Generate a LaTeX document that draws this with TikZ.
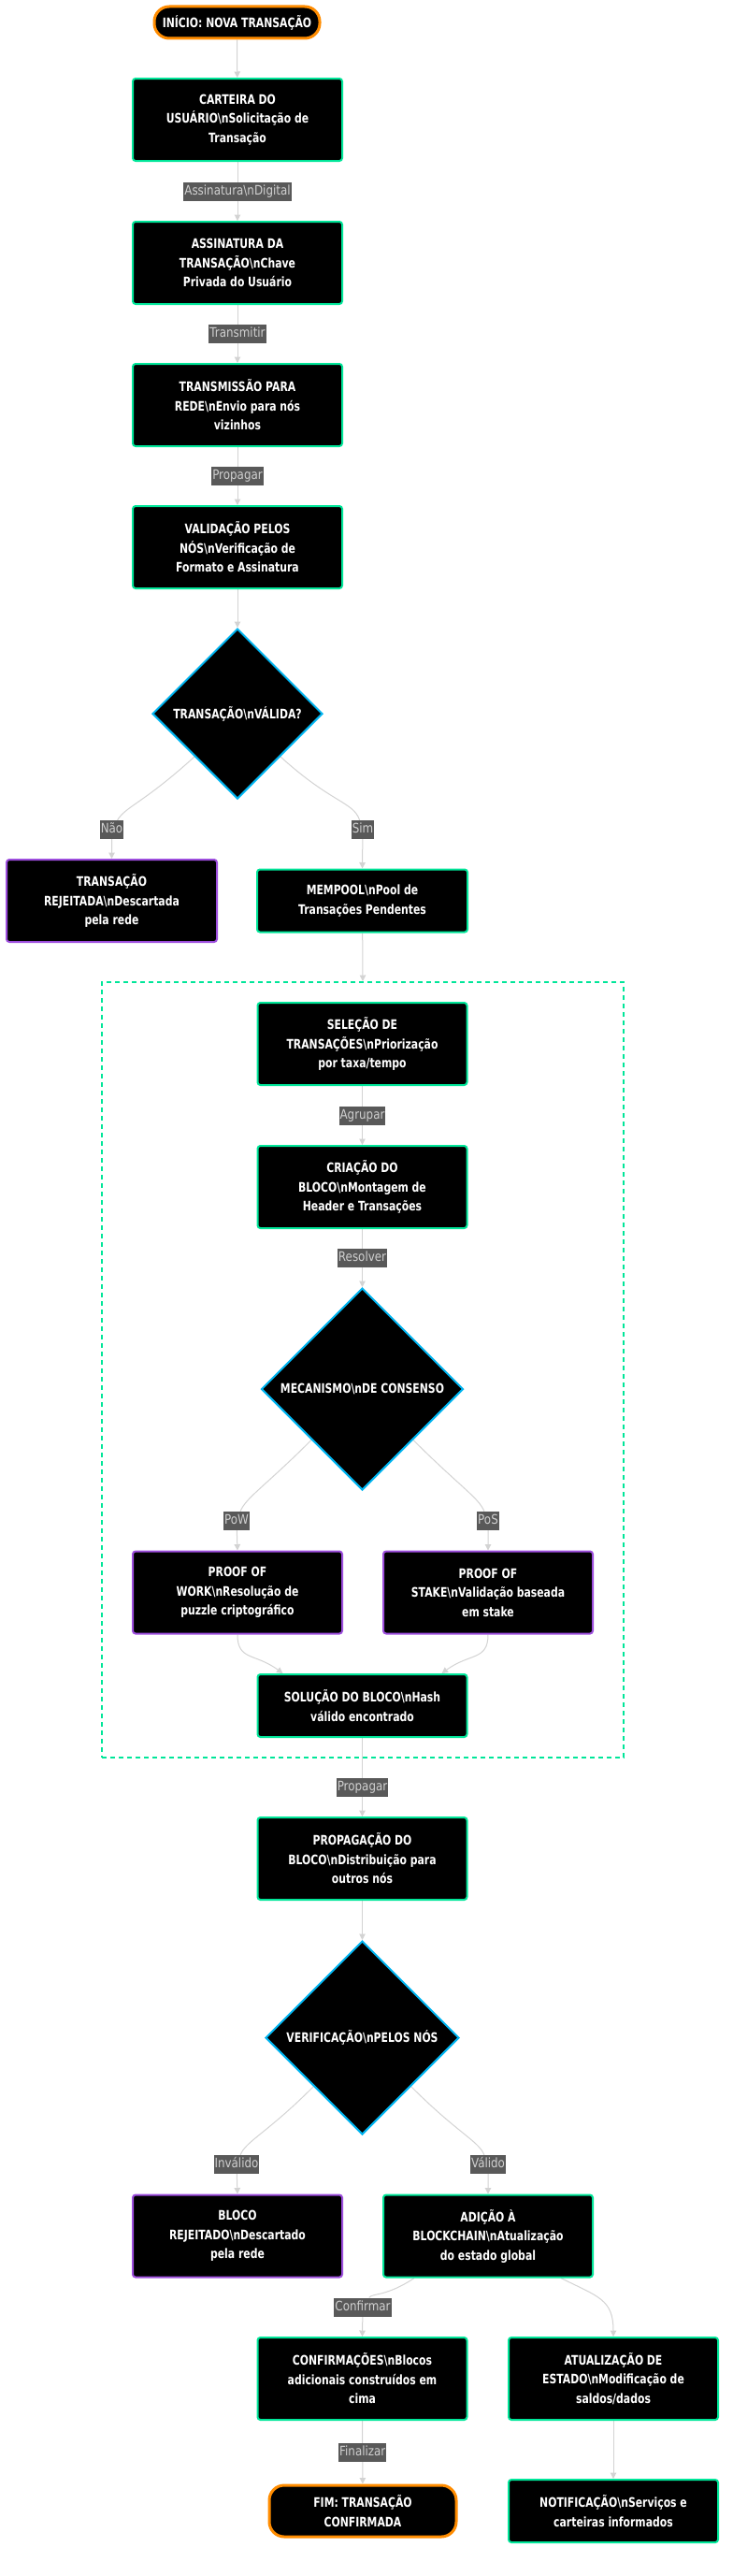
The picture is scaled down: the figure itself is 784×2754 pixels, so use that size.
\documentclass[tikz,border=0pt]{standalone}
\usepackage{fontspec}
\setmainfont{DejaVu Sans}[FakeStretch=0.85, BoldFeatures={FakeStretch=0.775}]
\usepackage{xcolor}
\usepackage{tikz}
\usetikzlibrary{arrows.meta,shapes.geometric,fit,calc,backgrounds}

\definecolor{verde}{HTML}{00E699}
\definecolor{roxo}{HTML}{9D4EDD}
\definecolor{laranja}{HTML}{FF8C00}
\definecolor{ciano}{HTML}{00B4F0}
\definecolor{linha}{HTML}{D3D3D3}
\definecolor{rotulo}{HTML}{595959}
\definecolor{rotulotxt}{HTML}{D0D0D0}

\newcommand{\bsn}{\textbackslash n}

\tikzset{
  base/.style={fill=black, text=white, font=\fontsize{14}{20.5}\selectfont\bfseries, align=center, inner sep=0pt},
  caixa/.style={base, draw=verde, line width=2pt, rounded corners=3pt, minimum width=224pt, minimum height=88pt},
  caixa2/.style={caixa, minimum height=67pt},
  roxa/.style={caixa, draw=roxo},
  termo/.style={base, draw=laranja, line width=3pt, rounded corners=16pt},
  decisao/.style={base, diamond, aspect=1, draw=ciano, line width=2pt},
  flow/.style={draw=linha, line width=1pt, -{Triangle[length=6.5pt,width=6.5pt]}},
  lbl/.style={fill=rotulo, text=rotulotxt, font=\fontsize{14}{16}\selectfont, inner xsep=1pt, inner ysep=0pt, minimum height=20pt, text height=10.5pt, text depth=3pt},
}

\begin{document}
\begin{tikzpicture}[x=1pt,y=-1pt]
  \useasboundingbox (0,0) rectangle (784,2754); % 与原图同尺寸
  % 主流程
  \node[termo, minimum width=177pt, minimum height=34pt] (inicio) at (253.5,24) {INÍCIO: NOVA TRANSAÇÃO};
  \node[caixa] (carteira) at (254,128) {CARTEIRA DO\\USUÁRIO\bsn Solicitação de\\Transação};
  \node[caixa] (assinatura) at (254,281) {ASSINATURA DA\\TRANSAÇÃO\bsn Chave\\Privada do Usuário};
  \node[caixa] (transmissao) at (254,433) {TRANSMISSÃO PARA\\REDE\bsn Envio para nós\\vizinhos};
  \node[caixa] (validacao) at (254,585) {VALIDAÇÃO PELOS\\NÓS\bsn Verificação de\\Formato e Assinatura};
  \node[decisao, minimum width=182pt, minimum height=182pt] (dvalida) at (254,763) {TRANSAÇÃO\bsn VÁLIDA?};
  \node[roxa, minimum width=225pt] (rejtx) at (119.5,963) {TRANSAÇÃO\\REJEITADA\bsn Descartada\\pela rede};
  \node[caixa2, minimum width=225pt] (mempool) at (387.5,963) {MEMPOOL\bsn Pool de\\Transações Pendentes};
  % 区块生成
  \node[caixa] (selecao) at (387.5,1116) {SELEÇÃO DE\\TRANSAÇÕES\bsn Priorização\\por taxa/tempo};
  \node[caixa] (criacao) at (387.5,1269) {CRIAÇÃO DO\\BLOCO\bsn Montagem de\\Header e Transações};
  \node[decisao, minimum width=216pt, minimum height=216pt] (dconsenso) at (387.5,1485) {MECANISMO\bsn DE CONSENSO};
  \node[roxa] (pow) at (254,1702.5) {PROOF OF\\WORK\bsn Resolução de\\puzzle criptográfico};
  \node[roxa] (pos) at (522,1702.5) {PROOF OF\\STAKE\bsn Validação baseada\\em stake};
  \node[caixa2] (solucao) at (387.5,1823.5) {SOLUÇÃO DO BLOCO\bsn Hash\\válido encontrado};
  \node[draw=verde, dash pattern=on 5pt off 4pt, line width=2pt, inner xsep=32pt, inner ysep=21pt,
        fit=(selecao)(pow)(pos)(solucao)] (grupo) {};
  % 传播与确认
  \node[caixa] (propagacao) at (387.5,1987) {PROPAGAÇÃO DO\\BLOCO\bsn Distribuição para\\outros nós};
  \node[decisao, minimum width=207pt, minimum height=207pt] (dverif) at (387.5,2178.5) {VERIFICAÇÃO\bsn PELOS NÓS};
  \node[roxa] (rejbloco) at (254,2390.5) {BLOCO\\REJEITADO\bsn Descartado\\pela rede};
  \node[caixa] (adicao) at (522,2390.5) {ADIÇÃO À\\BLOCKCHAIN\bsn Atualização\\do estado global};
  \node[caixa] (confirm) at (387.5,2543) {CONFIRMAÇÕES\bsn Blocos\\adicionais construídos em\\cima};
  \node[caixa] (atualiz) at (656,2543) {ATUALIZAÇÃO DE\\ESTADO\bsn Modificação de\\saldos/dados};
  \node[termo, minimum width=200pt, minimum height=55pt] (fim) at (388,2684.5) {FIM: TRANSAÇÃO\\CONFIRMADA};
  \node[caixa2] (notif) at (656,2684.5) {NOTIFICAÇÃO\bsn Serviços e\\carteiras informados};
  % 分支标签
  \node[lbl] (lNao) at (119.5,887) {Não};
  \node[lbl] (lSim) at (388,887) {Sim};
  \node[lbl] (lPoW) at (253,1626) {PoW};
  \node[lbl] (lPoS) at (522,1626) {PoS};
  \node[lbl] (lInv) at (253,2314) {Inválido};
  \node[lbl] (lVal) at (522,2314) {Válido};
  \node[lbl] (lConf) at (388,2466.5) {Confirmar};

  \begin{scope}[on background layer]
    \draw[flow] (inicio) -- (carteira);
    \draw[flow] (carteira) -- node[lbl]{Assinatura\bsn Digital} (assinatura);
    \draw[flow] (assinatura) -- node[lbl]{Transmitir} (transmissao);
    \draw[flow] (transmissao) -- node[lbl]{Propagar} (validacao);
    \draw[flow] (validacao) -- (dvalida);
    \draw[flow] (dvalida.south west) .. controls +(-55,50) and +(15,-25) .. (lNao) -- (rejtx.north);
    \draw[flow] (dvalida.south east) .. controls +(55,50) and +(-10,-30) .. (lSim) -- (mempool.north);
    \draw[flow] (mempool) -- (grupo.north);
    \draw[flow] (selecao) -- node[lbl]{Agrupar} (criacao);
    \draw[flow] (criacao) -- node[lbl]{Resolver} (dconsenso);
    \draw[flow] (dconsenso.south west) .. controls +(-50,50) and +(10,-25) .. (lPoW) -- (pow.north);
    \draw[flow] (dconsenso.south east) .. controls +(50,50) and +(-10,-25) .. (lPoS) -- (pos.north);
    \draw[flow] (pow.south) .. controls +(0,28) and +(-30,-22) .. ($(solucao.north)+(-85,0)$);
    \draw[flow] (pos.south) .. controls +(0,28) and +(30,-22) .. ($(solucao.north)+(85,0)$);
    \draw[flow] (solucao) -- node[lbl, pos=0.63]{Propagar} (propagacao);
    \draw[flow] (propagacao) -- (dverif);
    \draw[flow] (dverif.south west) .. controls +(-50,50) and +(10,-25) .. (lInv) -- (rejbloco.north);
    \draw[flow] (dverif.south east) .. controls +(50,50) and +(-10,-25) .. (lVal) -- (adicao.north);
    \draw[flow] ($(adicao.south)+(-79,0)$) .. controls +(-30,20) and +(10,-15) .. (lConf) -- (confirm.north);
    \draw[flow] ($(adicao.south)+(78,0)$) .. controls +(40,20) and +(0,-40) .. (atualiz.north);
    \draw[flow] (confirm) -- node[lbl]{Finalizar} (fim);
    \draw[flow] (atualiz) -- (notif);
  \end{scope}
\end{tikzpicture}
\end{document}
